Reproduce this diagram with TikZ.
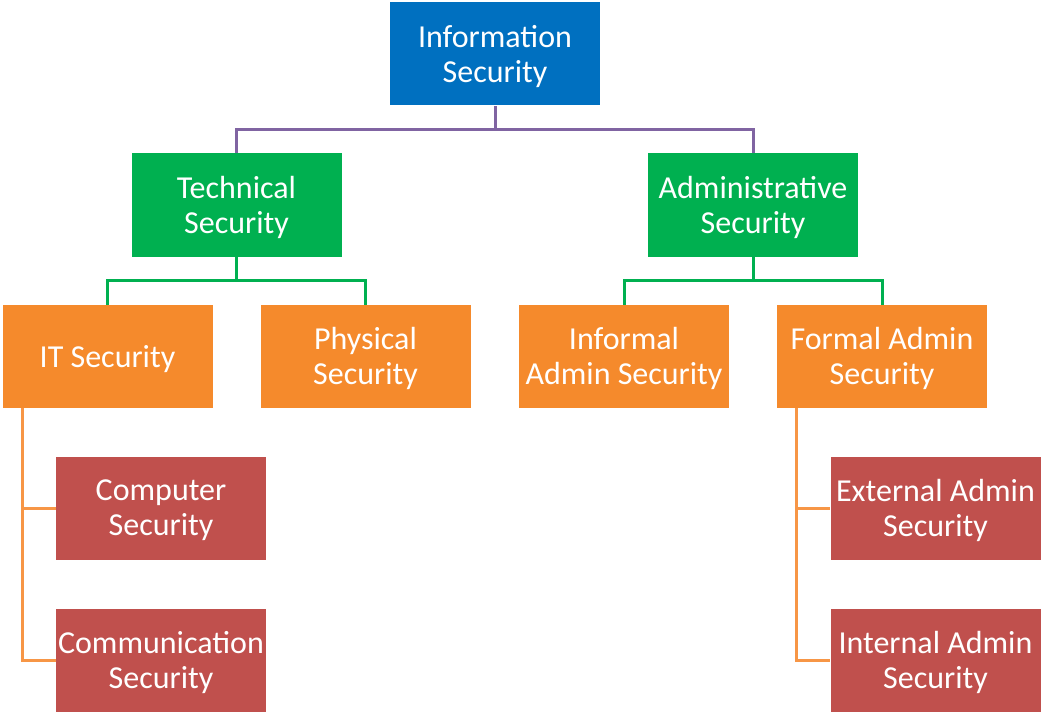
\documentclass[tikz,border=0pt]{standalone}
\usepackage{fontspec}
\setmainfont{Carlito}
\definecolor{cblue}{RGB}{0,112,192}
\definecolor{cgreen}{RGB}{0,176,80}
\definecolor{corange}{RGB}{245,138,44}
\definecolor{cred}{RGB}{192,80,77}
\definecolor{cpurple}{RGB}{128,100,162}
\definecolor{clorange}{RGB}{247,150,70}
\begin{document}
\begin{tikzpicture}[x=1pt,y=-1pt,
  box/.style={rectangle,inner sep=0pt,minimum width=210pt,minimum height=103pt,
    text=white,align=center,text depth=1pt,font=\fontsize{32}{35}\selectfont},
  bluebox/.style={box,fill=cblue},
  greenbox/.style={box,fill=cgreen},
  orangebox/.style={box,fill=corange},
  redbox/.style={box,fill=cred},
  pline/.style={draw=cpurple,line width=3pt},
  gline/.style={draw=cgreen,line width=3pt},
  oline/.style={draw=clorange,line width=3pt}]
\useasboundingbox (0,0) rectangle (1044,714);
\node[bluebox] (top) at (495,54) {Information\\Security};
\node[greenbox] (tech) at (236.5,205) {Technical\\Security};
\node[greenbox] (adm) at (753,205) {Administrative\\Security};
\node[orangebox] (it) at (107.5,356.5) {IT Security};
\node[orangebox] (phy) at (365.5,356.5) {Physical\\Security};
\node[orangebox] (inf) at (624,356.5) {Informal\\Admin Security};
\node[orangebox] (for) at (882,356.5) {Formal Admin\\Security};
\node[redbox] (comp) at (161,508.5) {Computer\\Security};
\node[redbox] (comm) at (161,660) {Communication\\Security};
\node[redbox] (ext) at (935.5,508.5) {External Admin\\Security};
\node[redbox] (int) at (935.5,660) {Internal Admin\\Security};
\draw[pline] (tech.north) -- ++(0,-24) -| (top.south);
\draw[pline] (adm.north) -- ++(0,-24) -| (top.south);
\draw[gline] (it.north) -- ++(0,-24) -| (tech.south);
\draw[gline] (phy.north) -- ++(0,-24) -| (tech.south);
\draw[gline] (inf.north) -- ++(0,-24) -| (adm.south);
\draw[gline] (for.north) -- ++(0,-24) -| (adm.south);
\draw[oline] ([xshift=20pt]it.south west) |- (comp.west);
\draw[oline] ([xshift=20pt]it.south west) |- (comm.west);
\draw[oline] ([xshift=20pt]for.south west) |- (ext.west);
\draw[oline] ([xshift=20pt]for.south west) |- (int.west);
\end{tikzpicture}
\end{document}
